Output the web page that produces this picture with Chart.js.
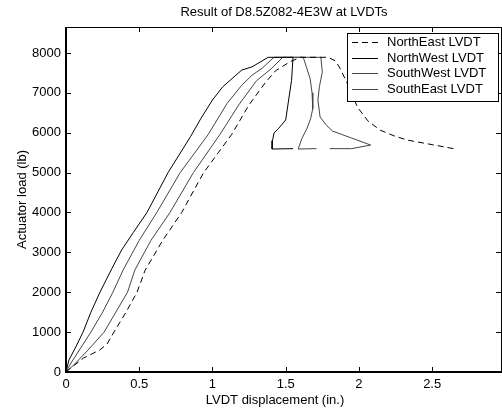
<!DOCTYPE html>
<html>
<head>
<meta charset="utf-8">
<title>Result of D8.5Z082-4E3W at LVDTs</title>
<script src="https://cdn.jsdelivr.net/npm/chart.js@4.4.0/dist/chart.umd.min.js"></script>
<style>
  html, body { margin: 0; padding: 0; background: #fff; }
</style>
</head>
<body>
<canvas id="lvdtChart" width="502" height="413"></canvas>
<script>
// displacement (in.) and actuator load (lb) for each LVDT
const neX = [0, 0.05, 0.12, 0.23, 0.28, 0.335, 0.41, 0.485, 0.54, 0.66, 0.79, 0.94, 1.04, 1.13, 1.25, 1.36, 1.43, 1.53, 1.60, 1.79, 1.84, 1.87, 1.92, 1.99, 2.06, 2.145, 2.24, 2.33, 2.5, 2.66];
const neY = [0, 150, 350, 550, 700, 1050, 1500, 2000, 2550, 3300, 4000, 5000, 5500, 5950, 6700, 7250, 7550, 7780, 7890, 7890, 7800, 7620, 7240, 6640, 6300, 6065, 5920, 5815, 5700, 5590];

const nwX = [0, 0.01, 0.02, 0.07, 0.116, 0.17, 0.232, 0.314, 0.38, 0.46, 0.553, 0.697, 0.85, 0.92, 1.0, 1.07, 1.2, 1.27, 1.33, 1.38, 1.55, 1.54, 1.52, 1.50, 1.45, 1.42, 1.41, 1.407, 1.55];
const nwY = [0, 150, 300, 650, 1000, 1500, 2000, 2600, 3060, 3500, 4000, 5000, 5900, 6350, 6820, 7150, 7570, 7650, 7780, 7890, 7890, 7310, 6820, 6320, 6100, 5990, 5800, 5590, 5600];

const swX = [0, 0.03, 0.1, 0.17, 0.25, 0.32, 0.39, 0.5, 0.62, 0.78, 0.97, 1.10, 1.2, 1.27, 1.34, 1.42, 1.62, 1.667, 1.68, 1.685, 1.67, 1.646, 1.61, 1.585, 1.71];
const swY = [0, 200, 600, 1000, 1500, 2000, 2556, 3300, 4000, 5000, 5950, 6735, 7190, 7440, 7620, 7890, 7890, 7350, 7000, 6600, 6350, 6115, 5850, 5590, 5600];

const seX = [0, 0.06, 0.15, 0.26, 0.34, 0.42, 0.47, 0.58, 0.71, 0.87, 1.05, 1.18, 1.30, 1.40, 1.48, 1.74, 1.75, 1.73, 1.72, 1.735, 1.78, 1.82, 1.88, 1.95, 2.08, 1.95, 1.80];
const seY = [0, 200, 550, 1000, 1500, 2000, 2556, 3300, 4000, 5000, 5950, 6700, 7300, 7600, 7890, 7890, 7520, 7150, 6820, 6390, 6180, 6040, 5960, 5865, 5690, 5600, 5600];

const seriesNames = ['NorthEast LVDT', 'NorthWest LVDT', 'SouthWest LVDT', 'SouthEast LVDT'];
const xTicks = [0, 0.5, 1, 1.5, 2, 2.5];
const yTicks = [0, 1000, 2000, 3000, 4000, 5000, 6000, 7000, 8000];

const FONT = '"Liberation Sans", Arial, Helvetica, sans-serif';

function pairs(xs, ys) {
    return xs.map((x, i) => ({ x: x, y: ys[i] }));
}

// box, inward ticks, titles and legend in the matlab look
const matlabFrame = {
    id: 'matlabFrame',
    afterDraw(chart) {
        const ctx = chart.ctx;
        const a = chart.chartArea;
        const xs = chart.scales.x;
        const ys = chart.scales.y;
        ctx.save();

        ctx.strokeStyle = '#000';
        ctx.lineWidth = 1;
        ctx.beginPath();
        xTicks.forEach(v => {
            const px = Math.round(xs.getPixelForValue(v)) + 0.5;
            ctx.moveTo(px, a.bottom); ctx.lineTo(px, a.bottom - 5);
            ctx.moveTo(px, a.top); ctx.lineTo(px, a.top + 5);
        });
        yTicks.forEach(v => {
            const py = Math.round(ys.getPixelForValue(v)) + 0.5;
            ctx.moveTo(a.left, py); ctx.lineTo(a.left + 5, py);
            ctx.moveTo(a.right, py); ctx.lineTo(a.right - 5, py);
        });
        // top and right edges
        ctx.moveTo(a.left, a.top + 0.5); ctx.lineTo(a.right + 1, a.top + 0.5);
        ctx.moveTo(a.right + 0.5, a.top); ctx.lineTo(a.right + 0.5, a.bottom);
        ctx.stroke();

        // left and bottom axes are heavier
        ctx.lineWidth = 2;
        ctx.beginPath();
        ctx.moveTo(a.left, a.top); ctx.lineTo(a.left, a.bottom + 1);
        ctx.moveTo(a.left - 1, a.bottom); ctx.lineTo(a.right + 1, a.bottom);
        ctx.stroke();

        // titles
        ctx.fillStyle = '#000';
        ctx.font = '13px ' + FONT;
        ctx.textAlign = 'center';
        ctx.textBaseline = 'middle';
        ctx.fillText('Result of D8.5Z082-4E3W at LVDTs', 284, 12);
        ctx.fillText('LVDT displacement (in.)', 275, 400);
        ctx.save();
        ctx.translate(22, (a.top + a.bottom) / 2);
        ctx.rotate(-Math.PI / 2);
        ctx.fillText('Actuator load (lb)', 0, 0);
        ctx.restore();

        // legend box
        const lx = 347, ly = 33, lw = 151, lh = 68;
        ctx.fillStyle = '#fff';
        ctx.fillRect(lx, ly, lw, lh);
        ctx.strokeStyle = '#000';
        ctx.lineWidth = 1;
        ctx.strokeRect(lx + 0.5, ly + 0.5, lw, lh);
        ctx.textAlign = 'left';
        chart.data.datasets.forEach((ds, i) => {
            const ry = ly + 9 + i * 15.7;
            ctx.save();
            ctx.strokeStyle = ds.borderColor;
            ctx.lineWidth = ds.borderWidth;
            ctx.setLineDash(ds.borderDash || []);
            ctx.beginPath();
            ctx.moveTo(lx + 5, Math.round(ry) + 0.5);
            ctx.lineTo(lx + 31, Math.round(ry) + 0.5);
            ctx.stroke();
            ctx.restore();
            ctx.fillStyle = '#000';
            ctx.fillText(ds.label, lx + 40, ry + 0.5);
        });

        ctx.restore();
    }
};

const chart = new Chart(document.getElementById('lvdtChart'), {
    type: 'line',
    data: {
        datasets: [
            { label: seriesNames[0], data: pairs(neX, neY), borderColor: '#000', borderDash: [6, 4], borderWidth: 1 },
            { label: seriesNames[1], data: pairs(nwX, nwY), borderColor: '#000', borderWidth: 1 },
            { label: seriesNames[2], data: pairs(swX, swY), borderColor: '#444', borderWidth: 1 },
            { label: seriesNames[3], data: pairs(seX, seY), borderColor: '#444', borderWidth: 1 }
        ]
    },
    options: {
        responsive: false,
        animation: false,
        parsing: false,
        layout: { padding: { top: 27, right: 1, bottom: 0, left: 0 } },
        elements: {
            point: { radius: 0, hoverRadius: 0 },
            line: { tension: 0, fill: false }
        },
        plugins: {
            legend: { display: false },
            title: { display: false },
            tooltip: { enabled: false }
        },
        scales: {
            x: {
                type: 'linear',
                min: 0,
                max: 2.97,
                grid: { display: false, drawTicks: false },
                border: { display: false },
                afterBuildTicks: s => { s.ticks = xTicks.map(v => ({ value: v })); },
                afterFit: s => { s.height = 41; },
                ticks: {
                    padding: 5,
                    color: '#000',
                    font: { family: FONT, size: 13 },
                    callback: v => String(v)
                }
            },
            y: {
                type: 'linear',
                min: 0,
                max: 8650,
                grid: { display: false, drawTicks: false },
                border: { display: false },
                afterBuildTicks: s => { s.ticks = yTicks.map(v => ({ value: v })); },
                afterFit: s => { s.width = 66; },
                ticks: {
                    padding: 5,
                    color: '#000',
                    font: { family: FONT, size: 13 },
                    callback: v => String(v)
                }
            }
        }
    },
    plugins: [matlabFrame]
});
</script>
</body>
</html>
